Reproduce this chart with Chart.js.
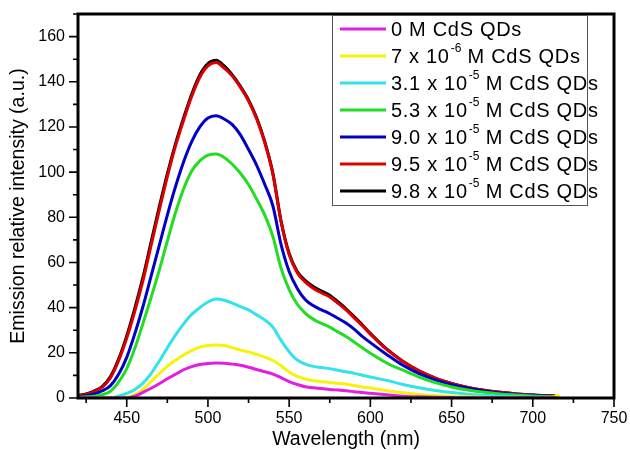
<!DOCTYPE html>
<html>
<head>
<meta charset="utf-8">
<script src="https://cdn.jsdelivr.net/npm/chart.js@4.4.1/dist/chart.umd.min.js"></script>
<style>
html,body{margin:0;padding:0;background:#fff;}
#wrap{width:630px;height:450px;position:relative;}
</style>
</head>
<body>
<div id="wrap"><canvas id="c" width="630" height="450"></canvas></div>
<script>
const wavelengths = [420,425,430,435,440,445,450,455,460,465,470,475,480,485,490,495,500,505,510,515,520,525,530,535,540,545,550,555,560,565,570,575,580,585,590,595,600,610,620,630,640,650,660,670,680,690,700,710,715];

const s0M   = [0,0,0,0,0,0,0,0.8,2.5,4.3,6.3,8.5,10.5,12.5,13.9,14.8,15.3,15.5,15.4,15,14.5,13.6,12.6,11.6,10.6,9,7.3,6,5,4.5,4.2,3.8,3.5,3.2,2.8,2.4,2.1,1.4,0.8,0.5,0.3,0.2,0.1,0.1,0.1,0.1,0.1,0.1,0.1];
const s7e6  = [0,0,0,0,0,0,0.3,1.5,3.8,7.3,10.8,14,16.7,19,21,22.5,23.2,23.5,23.2,22.3,21.2,20.4,19.3,18.1,16.6,14.3,11.5,9.6,8.4,7.6,7.2,6.9,6.5,6.1,5.5,4.9,4.4,3.2,2.3,1.6,1.1,0.7,0.5,0.3,0.2,0.2,0.2,0.3,0.5];
const s31e5 = [0,0,0,0,0,0.8,2,3.8,6.6,10.8,16.3,22.2,27.8,32.8,37,40,42.5,43.8,43.3,42,40.5,39,36.8,34.5,31.4,25.5,20.5,16.8,15,14,13.5,13,12.3,11.6,10.9,10.1,9.3,7.8,6,4.5,3.3,2.4,1.7,1.2,0.8,0.5,0.3,0.2,0.1];
const s53e5 = [0.3,0.5,0.8,1.5,3,7,13,22,33,44.5,56.5,69.5,82,92.5,100.5,105,107.5,108,106.5,103.5,99.5,94.5,88,81,71.5,57.5,48,41.5,37.5,34.8,33,31.4,29.3,27.2,24.8,22.2,19.8,15.5,12.3,9.3,6.8,4.9,3.5,2.5,1.8,1.3,0.9,0.6,0.5];
const s90e5 = [0.6,1,1.8,3.2,5.5,10.5,18,28.5,40.5,54,67.5,81,93.5,104.5,113.5,120,124,125,123.5,121,116.5,110,103,94.5,85,68,56,48.5,43.5,40.8,39,37.3,35.3,33.2,30.5,27.3,24.5,19.3,14.5,10.8,8,5.9,4.3,3.1,2.2,1.6,1.2,0.9,0.7];
const s95e5 = [1,1.6,2.8,4.8,9,16.5,26.5,38.5,52,67.5,83,98,111.5,123,133.5,142,147,148.5,146,142.5,137.5,131.5,123.5,113,99,78,63.5,55.5,51.3,48.5,46.5,44.7,42,39,35.5,32,28.3,21.5,16.2,12,8.8,6.5,4.7,3.4,2.5,1.8,1.3,1,0.8];
const s98e5 = [1.2,1.8,3.1,5.2,9.5,17.2,27.5,39.8,53.5,69,84.5,99.2,112.5,124,134.5,143,148,149.5,147,143,138,132,124,113.5,99.5,78.5,64,56,52,49.3,47.3,45.5,42.6,39.5,36,32.4,28.6,21.7,16.3,12,8.8,6.5,4.7,3.4,2.5,1.8,1.3,1,0.8];

const seriesValues = [s0M, s7e6, s31e5, s53e5, s90e5, s95e5, s98e5];
const seriesColors = ['#e21ee2','#f4f40a','#33e2ea','#22dd22','#0000c8','#dd0000','#000000'];
const labelPre  = ['0 M CdS QDs','7 x 10','3.1 x 10','5.3 x 10','9.0 x 10','9.5 x 10','9.8 x 10'];
const labelExp  = ['','-6','-5','-5','-5','-5','-5'];
const labelPost = ['',' M CdS QDs',' M CdS QDs',' M CdS QDs',' M CdS QDs',' M CdS QDs',' M CdS QDs'];

const xMajorTicks = [450,500,550,600,650,700,750];
const xMinorTicks = [425,475,525,575,625,675,725];
const yMajorTicks = [0,20,40,60,80,100,120,140,160];
const yMinorTicks = [10,30,50,70,90,110,130,150,170];

const xTitle = 'Wavelength (nm)';
const yTitle = 'Emission relative intensity (a.u.)';

const FONT = '"Liberation Sans", Arial, sans-serif';

const datasets = seriesValues.map((vals, i) => ({
  label: labelPre[i] + (labelExp[i] ? '^' + labelExp[i] : '') + labelPost[i],
  data: wavelengths.map((w, k) => ({x: w, y: vals[k]})),
  borderColor: seriesColors[i],
  backgroundColor: seriesColors[i],
  borderWidth: 3,
  cubicInterpolationMode: 'monotone',
  pointRadius: (ctx) => (i === 1 && ctx.dataIndex === wavelengths.length - 1) ? 3 : 0,
  pointBorderWidth: 0,
  fill: false
}));

const framePlugin = {
  id: 'frame',
  afterDraw(chart) {
    const ctx = chart.ctx;
    const a = chart.chartArea;
    const xs = chart.scales.x, ys = chart.scales.y;
    ctx.save();
    ctx.strokeStyle = '#000';
    ctx.lineWidth = 1.6;
    ctx.beginPath();
    xMajorTicks.forEach(v => { const p = xs.getPixelForValue(v); ctx.moveTo(p, a.bottom); ctx.lineTo(p, a.bottom + 9); });
    xMinorTicks.forEach(v => { const p = xs.getPixelForValue(v); ctx.moveTo(p, a.bottom); ctx.lineTo(p, a.bottom + 5); });
    yMajorTicks.forEach(v => { const p = ys.getPixelForValue(v); ctx.moveTo(a.left, p); ctx.lineTo(a.left - 9, p); });
    yMinorTicks.forEach(v => { const p = ys.getPixelForValue(v); ctx.moveTo(a.left, p); ctx.lineTo(a.left - 5, p); });
    ctx.stroke();
    ctx.lineWidth = 3;
    ctx.strokeRect(a.left, a.top, a.right - a.left, a.bottom - a.top);
    // titles
    ctx.fillStyle = '#000';
    ctx.font = '19.5px ' + FONT;
    ctx.textAlign = 'center';
    ctx.textBaseline = 'middle';
    ctx.fillText(xTitle, (a.left + a.right) / 2, 440);
    ctx.translate(19, (a.top + a.bottom) / 2);
    ctx.rotate(-Math.PI / 2);
    ctx.fillText(yTitle, 0, 0);
    ctx.restore();

    // legend
    ctx.save();
    ctx.fillStyle = '#fff';
    ctx.fillRect(332, 15, 255, 190);
    ctx.strokeStyle = '#555';
    ctx.lineWidth = 1;
    ctx.strokeRect(332.5, 15.5, 255, 190);
    ctx.textBaseline = 'middle';
    ctx.textAlign = 'left';
    for (let i = 0; i < labelPre.length; i++) {
      const y = 29 + i * 27;
      ctx.strokeStyle = seriesColors[i];
      ctx.lineWidth = 3;
      ctx.beginPath(); ctx.moveTo(340, y); ctx.lineTo(386, y); ctx.stroke();
      ctx.fillStyle = '#000';
      ctx.letterSpacing = '0.7px';
      ctx.font = '20px ' + FONT;
      let x = 391;
      ctx.fillText(labelPre[i], x, y + 1);
      x += ctx.measureText(labelPre[i]).width;
      if (labelExp[i]) {
        ctx.letterSpacing = '0px';
        ctx.font = '12px ' + FONT;
        ctx.fillText(labelExp[i], x + 1, y - 7);
        x += ctx.measureText(labelExp[i]).width + 1;
        ctx.letterSpacing = '0.7px';
        ctx.font = '20px ' + FONT;
        ctx.fillText(labelPost[i], x, y + 1);
      }
    }
    ctx.restore();
  }
};

new Chart(document.getElementById('c'), {
  type: 'line',
  data: { datasets },
  options: {
    responsive: false,
    animation: false,
    devicePixelRatio: 1,
    layout: { padding: { top: 14, right: 16, left: 0, bottom: 0 } },
    plugins: { legend: { display: false }, tooltip: { enabled: false } },
    scales: {
      x: {
        type: 'linear', min: 420, max: 750,
        afterBuildTicks: (s) => { s.ticks = xMajorTicks.map(v => ({value: v})); },
        afterFit: (s) => { s.height = 52; s.paddingLeft = 0; s.paddingRight = 0; },
        grid: { display: false, drawTicks: false },
        border: { display: false },
        ticks: { color: '#000', font: { size: 16, family: FONT }, padding: 11, maxRotation: 0 }
      },
      y: {
        type: 'linear', min: 0, max: 170,
        afterBuildTicks: (s) => { s.ticks = yMajorTicks.map(v => ({value: v})); },
        afterFit: (s) => { s.width = 78; s.paddingTop = 0; s.paddingBottom = 0; },
        grid: { display: false, drawTicks: false },
        border: { display: false },
        ticks: { color: '#000', font: { size: 16, family: FONT }, padding: 13 }
      }
    }
  },
  plugins: [framePlugin]
});
</script>
</body>
</html>
